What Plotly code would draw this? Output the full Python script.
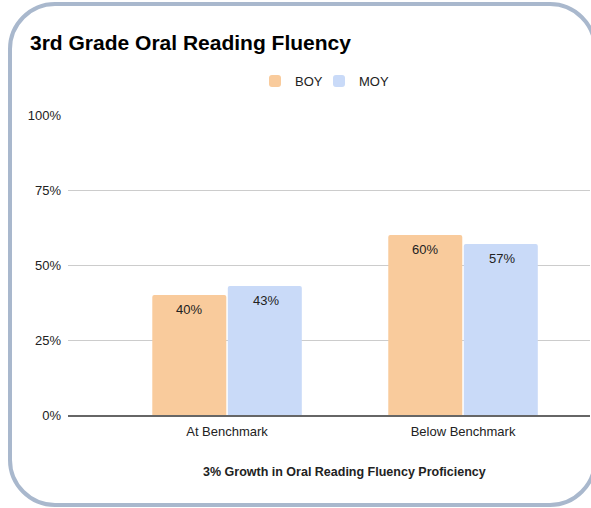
import plotly.graph_objects as go

categories = ["At Benchmark", "Below Benchmark"]
boy_values = [0.40, 0.60]
moy_values = [0.43, 0.57]
series_names = ["BOY", "MOY"]
y_tick_values = [0, 0.25, 0.5, 0.75, 1.0]
y_tick_labels = ["0%", "25%", "50%", "75%", "100%"]
title_text = "3rd Grade Oral Reading Fluency"
x_title_text = "3% Growth in Oral Reading Fluency Proficiency"

FONT = "Liberation Sans, Arial, sans-serif"
colors = ["#F9CB9C", "#C9DAF8"]

W, H = 591, 508
ML, MR, MT, MB = 68, 1, 115, 93
PW, PH = W - ML - MR, H - MT - MB


def px(x):
    return (x - ML) / PW


def py(y):
    return (H - MB - y) / PH


fig = go.Figure()
for name, vals, col, lg in zip(series_names, [boy_values, moy_values], colors, ["legend", "legend2"]):
    fig.add_trace(go.Bar(
        name=name, x=categories, y=vals, legend=lg,
        marker=dict(color=col, line=dict(width=0), cornerradius=2),
        hoverinfo="skip",
    ))

# value labels near the top inside each bar
bar_shift = 38.5
for vals, sgn in [(boy_values, -1), (moy_values, 1)]:
    for c, v in zip(categories, vals):
        fig.add_annotation(
            x=c, y=v, xref="x", yref="y", text=f"{round(v*100)}%",
            showarrow=False, yanchor="top", xanchor="center",
            xshift=sgn * bar_shift, yshift=-6, borderpad=0,
            font=dict(family=FONT, size=13, color="#222222"),
        )

# x axis title
fig.add_annotation(
    x=px(344), y=py(472), xref="paper", yref="paper", text=f"<b>{x_title_text}</b>",
    showarrow=False, xanchor="center", yanchor="middle",
    font=dict(family=FONT, size=12.5, color="#222222"),
)

# rounded border
L, R, T, B, r = 10, 595, 4, 505, 45
k = 0.45
pts = [
    ("M", (L, T + r)),
    ("C", (L, T + r * k), (L + r * k, T), (L + r, T)),
    ("L", (R - r, T)),
    ("C", (R - r * k, T), (R, T + r * k), (R, T + r)),
    ("L", (R, B - r)),
    ("C", (R, B - r * k), (R - r * k, B), (R - r, B)),
    ("L", (L + r, B)),
    ("C", (L + r * k, B), (L, B - r * k), (L, B - r)),
]
path = ""
for item in pts:
    cmd = item[0]
    path += cmd + " ".join(f"{px(a):.5f},{py(b):.5f}" for a, b in item[1:]) + " "
path += "Z"
fig.add_shape(type="path", path=path, xref="paper", yref="paper",
              line=dict(color="#A9B8CD", width=4), fillcolor="rgba(0,0,0,0)", layer="above")

legend_style = dict(orientation="h", xanchor="left", yanchor="middle", y=py(81),
                    font=dict(family=FONT, size=13, color="#222222"),
                    itemclick=False, itemdoubleclick=False, bgcolor="rgba(0,0,0,0)")

fig.update_layout(
    width=W, height=H,
    margin=dict(l=ML, r=MR, t=MT, b=MB, pad=0),
    paper_bgcolor="white", plot_bgcolor="white",
    barmode="group", bargap=0.36, bargroupgap=0.02,
    title=dict(text=f"<b>{title_text}</b>", x=30 / W, xanchor="left",
               y=1 - 43 / H, yanchor="middle",
               font=dict(family=FONT, size=21, color="#000000")),
    legend=dict(x=px(255), **legend_style),
    legend2=dict(x=px(319), **legend_style),
    font=dict(family=FONT, size=13, color="#222222"),
    showlegend=True,
)
fig.update_xaxes(range=[-0.674, 1.538], showgrid=False, showline=True, linecolor="#666666",
                 linewidth=1.5, ticks="", ticklabelstandoff=4,
                 tickfont=dict(family=FONT, size=13, color="#222222"),
                 fixedrange=True)
fig.update_yaxes(range=[0, 1.0], tickvals=y_tick_values, ticktext=y_tick_labels,
                 showgrid=True, gridcolor="#CCCCCC", gridwidth=1, zeroline=False,
                 ticks="", ticklabelstandoff=6,
                 tickfont=dict(family=FONT, size=13, color="#222222"), fixedrange=True)

fig.write_html("out.html", config={"displayModeBar": False},
               post_script="document.body.style.margin='0';document.body.style.overflow='hidden';")
